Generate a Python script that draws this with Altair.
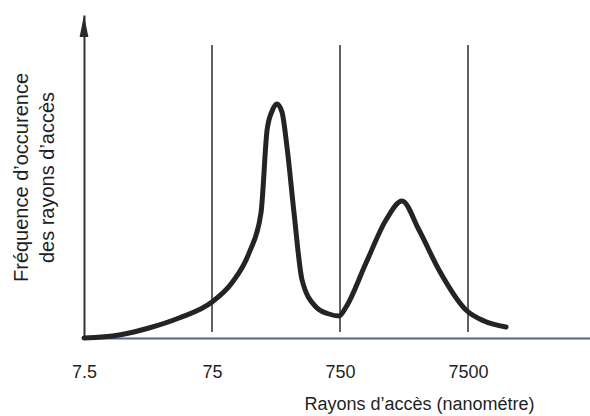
import altair as alt
import pandas as pd

# Curve: access radius (nm, log scale) vs relative frequency
radius_nm = [7.5, 14.1, 24.1, 41.4, 75, 107, 146, 181, 202, 221, 241, 264, 289,
             328, 379, 487, 615, 737, 836, 1197, 1715, 2288, 3105, 4449, 7232,
             10004, 14866]
frequency = [0, 3, 10, 20, 36, 55, 85, 125, 208, 227, 234, 226, 191,
             125, 58, 31, 24, 22, 31, 75, 118, 137, 108, 68, 28,
             17, 11]

# Vertical reference lines and axis labels
ref_radius = [75, 750, 7500]
ref_bottom = [6, 6, 6]
ref_top = [293, 293, 293]
tick_values = [7.5, 75, 750, 7500]

x_domain = [7.5, 67300]
y_domain = [0, 323]

curve_df = pd.DataFrame({"r": radius_nm, "f": frequency})
ref_df = pd.DataFrame({"r": ref_radius, "lo": ref_bottom, "hi": ref_top})
arrow_df = pd.DataFrame({"r": [x_domain[0]], "f": [y_domain[1]]})

FONT = "Liberation Sans"
TXT = "#1f1f1f"

xscale = alt.Scale(type="log", domain=x_domain, nice=False, zero=False)
yscale = alt.Scale(domain=y_domain, nice=False, zero=False)

x_enc = alt.X(
    "r:Q",
    scale=xscale,
    axis=alt.Axis(
        values=tick_values,
        format="~g",
        ticks=False,
        grid=False,
        domain=True,
        domainColor="#55638f",
        domainWidth=2,
        labelFont=FONT,
        labelFontSize=18,
        labelColor=TXT,
        labelPadding=25,
        labelFlush=False,
        title="Rayons d\u2019accès (nanométre)",
        titleFont=FONT,
        titleFontSize=18,
        titleFontWeight="normal",
        titleColor=TXT,
        titleAnchor="start",
        titleAlign="right",
        titleX=450,
        titleY=66,
        titleBaseline="middle",
    ),
)

y_enc = alt.Y(
    "f:Q",
    scale=yscale,
    axis=alt.Axis(
        ticks=False,
        labels=False,
        grid=False,
        domain=True,
        domainColor="#333333",
        domainWidth=2,
        title=["Fréquence d\u2019occurence", "des rayons d\u2019accès"],
        titleFont=FONT,
        titleFontSize=20,
        titleFontWeight="normal",
        titleColor=TXT,
        titleAngle=-90,
        titleAlign="center",
        titleBaseline="alphabetic",
        titleLineHeight=26,
        titleX=-57,
        titleY=162,
    ),
)

curve = alt.Chart(curve_df).mark_line(
    interpolate="monotone", color="#242424", strokeWidth=5,
    strokeCap="round", strokeJoin="round"
).encode(x=x_enc, y=y_enc)

refs = alt.Chart(ref_df).mark_rule(color="#3a3a3a", strokeWidth=1.6).encode(
    x=alt.X("r:Q", scale=xscale),
    y=alt.Y("lo:Q", scale=yscale),
    y2="hi:Q",
)

arrow = alt.Chart(arrow_df).mark_point(
    shape="M0,0L0.4,2L-0.4,2Z", filled=True, color="#2a2a2a", opacity=1, size=484
).encode(
    x=alt.X("r:Q", scale=xscale),
    y=alt.Y("f:Q", scale=yscale),
)

chart = alt.layer(refs, curve, arrow).properties(
    width=506,
    height=323,
    autosize=alt.AutoSizeParams(type="none"),
    padding={"left": 84, "top": 15, "right": 0, "bottom": 78},
    background="white",
).configure_view(stroke=None)

chart.save("out.html", embed_options={"renderer": "svg", "actions": False})
